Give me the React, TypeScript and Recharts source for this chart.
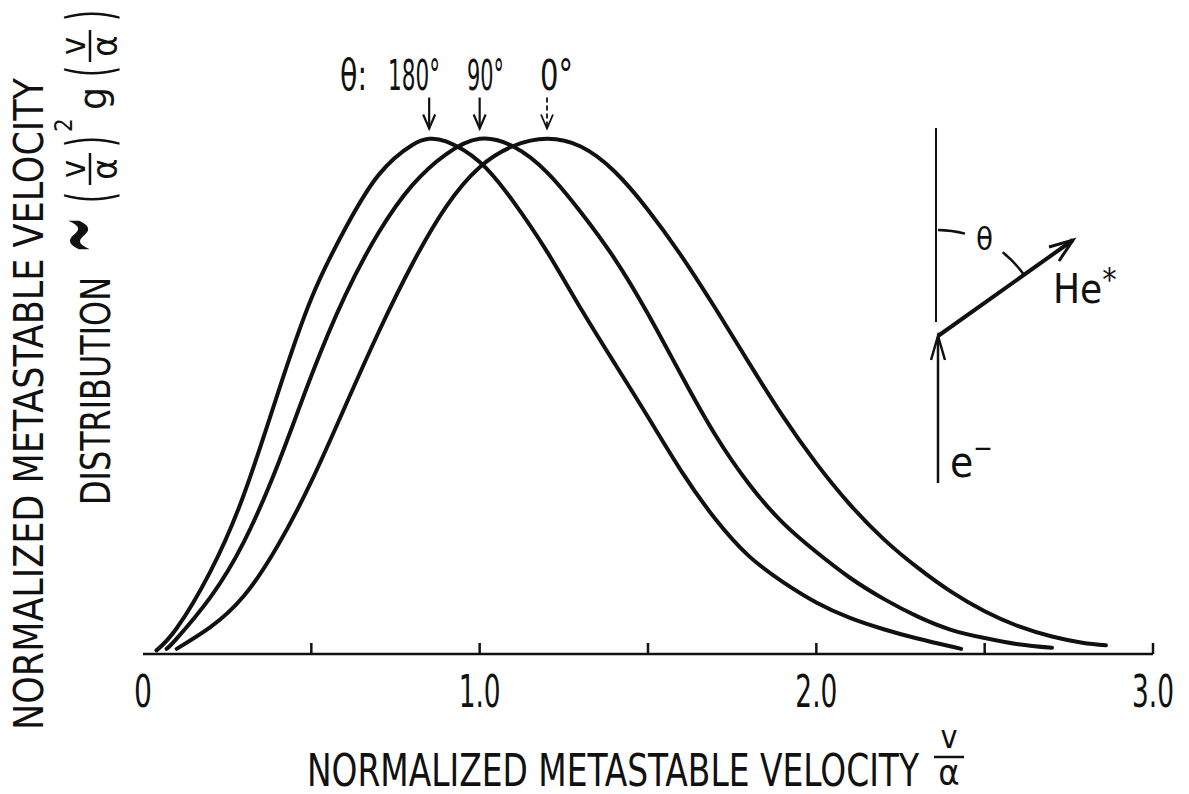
import { LineChart, Line, XAxis, YAxis, ReferenceLine } from 'recharts'

// Normalized metastable velocity v/α and normalized distribution, per emission angle θ
const V_180 = [0.04, 0.1, 0.2, 0.3, 0.4, 0.5, 0.6, 0.7, 0.8, 0.85, 0.9, 1.0, 1.1, 1.2, 1.3, 1.4, 1.5, 1.6, 1.7, 1.8, 1.9, 2.0, 2.1, 2.2, 2.3, 2.43]
const F_180 = [0.007, 0.05, 0.16, 0.31, 0.505, 0.69, 0.825, 0.93, 0.988, 1.0, 0.995, 0.955, 0.878, 0.781, 0.671, 0.565, 0.46, 0.354, 0.262, 0.19, 0.14, 0.1, 0.07, 0.048, 0.03, 0.01]

const V_90 = [0.07, 0.1, 0.2, 0.3, 0.4, 0.5, 0.6, 0.7, 0.8, 0.9, 1.0, 1.1, 1.2, 1.3, 1.4, 1.5, 1.6, 1.7, 1.8, 1.9, 2.0, 2.1, 2.2, 2.3, 2.4, 2.5, 2.6, 2.7]
const F_90 = [0.01, 0.03, 0.11, 0.218, 0.367, 0.54, 0.695, 0.818, 0.91, 0.97, 1.0, 0.985, 0.935, 0.858, 0.768, 0.66, 0.54, 0.425, 0.33, 0.255, 0.198, 0.148, 0.107, 0.073, 0.047, 0.031, 0.019, 0.012]

const V_0 = [0.1, 0.2, 0.3, 0.4, 0.5, 0.6, 0.7, 0.8, 0.9, 1.0, 1.1, 1.2, 1.3, 1.4, 1.5, 1.6, 1.7, 1.8, 1.9, 2.0, 2.1, 2.2, 2.3, 2.4, 2.5, 2.6, 2.7, 2.79, 2.86]
const F_0 = [0.01, 0.052, 0.113, 0.21, 0.335, 0.48, 0.625, 0.757, 0.868, 0.945, 0.986, 1.0, 0.985, 0.937, 0.862, 0.772, 0.671, 0.565, 0.462, 0.37, 0.29, 0.223, 0.168, 0.121, 0.083, 0.054, 0.034, 0.022, 0.017]

const ANGLES = ['180°', '90°', '0°']
const X_TICKS = [0, 0.5, 1, 1.5, 2, 2.5, 3]
const X_LABELS = ['0', '', '1.0', '', '2.0', '', '3.0']
const Y_TICKS = [0.25, 0.5, 0.75, 1, 1.25]

const W = 1189
const H = 794
const MARGIN = { top: 10, right: 36, bottom: 110, left: 143 }
const X_AXIS_H = 30
const AXIS_Y = H - MARGIN.bottom - X_AXIS_H
const INK = '#111'
const FONT = '"DejaVu Sans Condensed", "Liberation Sans Narrow", "DejaVu Sans", sans-serif'

const toPoints = (v: number[], f: number[]) => v.map((x, i) => ({ v: x, f: f[i] }))
const peakOf = (v: number[], f: number[]) => v[f.indexOf(Math.max(...f))]

const SERIES = [
  { name: ANGLES[0], data: toPoints(V_180, F_180), peak: peakOf(V_180, F_180) },
  { name: ANGLES[1], data: toPoints(V_90, F_90), peak: peakOf(V_90, F_90) },
  { name: ANGLES[2], data: toPoints(V_0, F_0), peak: peakOf(V_0, F_0) },
]

const txt = { fontFamily: FONT, fill: INK, lengthAdjust: 'spacingAndGlyphs' as const }

function XTick(props: any) {
  const { x, payload } = props
  const label = X_LABELS[X_TICKS.indexOf(payload.value)]
  return (
    <g>
      {payload.value > 0 && (
        <line x1={x} x2={x} y1={AXIS_Y} y2={AXIS_Y - 11} stroke={INK} strokeWidth={2.5} />
      )}
      {label && (
        <text {...txt} x={x} y={AXIS_Y + 53} textAnchor="middle" fontSize={44}
          textLength={label.length > 1 ? 42 : 18}>{label}</text>
      )}
    </g>
  )
}

function YTick(props: any) {
  const { y } = props
  return <line x1={MARGIN.left} x2={MARGIN.left + 11} y1={y} y2={y} stroke={INK} strokeWidth={2.5} />
}

// small down-pointing arrow marking each curve's maximum
function PeakArrow(props: any) {
  const { x1, y1, x2, y2, dashed } = props
  return (
    <g stroke={INK} fill="none" strokeWidth={dashed ? 1.8 : 2.2}>
      <line x1={x1} y1={y1} x2={x2} y2={y2} strokeDasharray={dashed ? '5 3' : undefined} />
      <polyline points={`${x2 - 6},${y2 - 14} ${x2},${y2} ${x2 + 6},${y2 - 14}`} />
    </g>
  )
}

function Fraction({ x, y }: { x: number; y: number }) {
  // v over α, written along the local x direction
  return (
    <g>
      <text {...txt} x={x} y={y} textAnchor="middle" fontSize={34}>v</text>
      <line x1={x - 16} x2={x + 16} y1={y + 5} y2={y + 5} stroke={INK} strokeWidth={2.5} />
      <text {...txt} x={x} y={y + 32} textAnchor="middle" fontSize={36}>α</text>
    </g>
  )
}

function Labels() {
  return (
    <svg width={W} height={H} style={{ position: 'absolute', left: 0, top: 0, pointerEvents: 'none' }}>
      {/* y axis title, two rotated lines */}
      <text {...txt} transform="translate(43 730) rotate(-90)" fontSize={40} textLength={652}>
        NORMALIZED METASTABLE VELOCITY
      </text>
      <g transform="translate(0 505) rotate(-90)">
        <text {...txt} x={0} y={110} fontSize={40} textLength={228}>DISTRIBUTION</text>
        <g transform="translate(270 95) scale(1 2.3)">
          <text {...txt} x={0} y={10} textAnchor="middle" fontSize={54} textLength={38}>∼</text>
        </g>
        <text {...txt} x={302} y={111} fontSize={62} textLength={11}>(</text>
        <Fraction x={336} y={85} />
        <text {...txt} x={358} y={111} fontSize={62} textLength={11}>)</text>
        <text {...txt} x={373} y={72} fontSize={24}>2</text>
        <text {...txt} x={395} y={106} fontSize={38} textLength={23}>g</text>
        <text {...txt} x={428} y={111} fontSize={62} textLength={11}>(</text>
        <Fraction x={459} y={85} />
        <text {...txt} x={484} y={111} fontSize={62} textLength={11}>)</text>
      </g>

      {/* x axis title */}
      <text {...txt} x={307} y={786} fontSize={44} textLength={612}>NORMALIZED METASTABLE VELOCITY</text>
      <text {...txt} x={949} y={748} textAnchor="middle" fontSize={32}>v</text>
      <line x1={934} x2={964} y1={757} y2={757} stroke={INK} strokeWidth={2.5} />
      <text {...txt} x={949} y={785} textAnchor="middle" fontSize={36}>α</text>

      {/* angle labels above the peak arrows */}
      <text {...txt} x={340} y={90} fontSize={42} textLength={27}>θ:</text>
      <text {...txt} x={388} y={90} fontSize={42} textLength={52}>{ANGLES[0]}</text>
      <text {...txt} x={467} y={90} fontSize={42} textLength={37}>{ANGLES[1]}</text>
      <text {...txt} x={540} y={90} fontSize={42} textLength={33}>{ANGLES[2]}</text>

      {/* scattering geometry sketch */}
      <g stroke={INK} fill="none">
        <line x1={936} y1={128} x2={936} y2={322} strokeWidth={2} />
        <line x1={938} y1={483} x2={938} y2={337} strokeWidth={2.5} />
        <polyline points="931,360 938,336 945,360" strokeWidth={2.5} />
        <line x1={938} y1={336} x2={1073} y2={240} strokeWidth={4} />
        <polyline points="1049,247 1073,240 1059,261" strokeWidth={3} />
        <path d="M 938 230 A 105 105 0 0 1 965 233.6" strokeWidth={2.5} />
        <path d="M 1002.6 252.3 A 105 105 0 0 1 1024 274.8" strokeWidth={2.5} />
      </g>
      <text {...txt} x={976} y={250} fontSize={32} textLength={17}>θ</text>
      <text {...txt} x={1053} y={303} fontSize={40}>
        He<tspan dy={-13} fontSize={32}>*</tspan>
      </text>
      <text {...txt} x={950} y={477} fontSize={42}>
        e<tspan dy={-20} fontSize={26}>−</tspan>
      </text>
    </svg>
  )
}

export default function App() {
  return (
    <div style={{ position: 'absolute', left: 0, top: 0, width: W, height: H, background: '#fff' }}>
      <LineChart width={W} height={H} margin={MARGIN}>
        <XAxis
          type="number"
          dataKey="v"
          domain={[0, 3]}
          ticks={X_TICKS}
          interval={0}
          height={X_AXIS_H}
          axisLine={{ stroke: INK, strokeWidth: 2.5 }}
          tickLine={false}
          tickSize={0}
          tickMargin={0}
          tick={<XTick />}
        />
        <YAxis
          type="number"
          domain={[0, 1.25]}
          ticks={Y_TICKS}
          interval={0}
          width={0}
          axisLine={{ stroke: INK, strokeWidth: 2.5 }}
          tickLine={false}
          tickSize={0}
          tickMargin={0}
          tick={<YTick />}
        />
        {SERIES.map((s) => (
          <Line
            key={s.name}
            data={s.data}
            dataKey="f"
            name={s.name}
            type="natural"
            stroke={INK}
            strokeWidth={4}
            strokeLinecap="round"
            dot={false}
            activeDot={false}
            isAnimationActive={false}
          />
        ))}
        {SERIES.map((s, i) => (
          <ReferenceLine
            key={'arrow' + s.name}
            segment={[{ x: s.peak, y: 1.08 }, { x: s.peak, y: 1.02 }]}
            shape={(p: any) => <PeakArrow {...p} dashed={i === 2} />}
          />
        ))}
      </LineChart>
      <Labels />
    </div>
  )
}
